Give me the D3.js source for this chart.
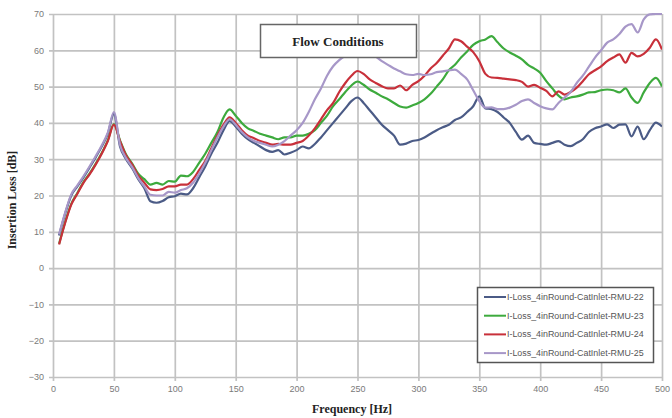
<!DOCTYPE html>
<html><head><meta charset="utf-8">
<script src="https://cdn.jsdelivr.net/npm/d3@7"></script>
<style>html,body{margin:0;padding:0;background:#fff;}svg{display:block;}</style>
</head><body><svg id="c" width="672" height="418"></svg>
<script>
const freq = [5,10,15,20,25,30,35,40,45,50,55,60,65,70,75,80,85,90,95,100,105,110,115,120,125,130,135,140,145,150,155,160,165,170,175,180,185,190,195,200,205,210,215,220,225,230,235,240,245,250,255,260,265,270,275,280,285,290,295,300,305,310,315,320,325,330,335,340,345,350,355,360,365,370,375,380,385,390,395,400,405,410,415,420,425,430,435,440,445,450,455,460,465,470,475,480,485,490,495,500];
const rmu22 = [9,15,20,22.5,25,27.7,30.5,33.5,37,42.5,33.5,30,27.5,24.5,22,18.4,18,18.5,19.5,19.8,20.5,20.3,22,25,28,31.5,34.5,38,40.5,39,37,35.5,34.5,33.5,32.5,32,32.5,31.3,31.8,32.5,33.5,33,34.2,36,38,40,42,44,46,47,45.5,43.5,41.5,39.5,38,36.5,34,34.3,35,35.3,36,37,38,38.8,39.5,40.8,41.5,43,44.6,47.3,44,43.8,43,41.5,40,37.5,35.4,36.5,34.5,34.2,34,34.5,35,34,33.6,34.5,35.5,37.5,38.5,39,39.6,38.6,39.5,39.6,36.3,39,35.5,38,40.1,39];
const rmu23 = [6.7,12.7,17.7,20.7,23.7,26,28.7,31.7,35.2,39.7,35.2,31.3,28.8,26,24.5,23,23.5,23,24,23.8,25.5,25.3,26.5,29,31.5,34.5,37.5,41.5,43.7,42,40,38.5,37.8,37,36.5,36,35.5,36,36,36.5,36.5,37,38,40,42,44.6,46.5,48.5,50.3,51.4,50.5,49.2,48.3,47.3,46.5,45.5,44.5,44.2,44.8,45.5,46.5,48,50,52,54.5,56,58,59.7,61.5,62.5,63,63.9,62.2,60.5,59.4,58.5,57.5,56,55,53.8,51.5,49.5,47.5,46.5,47,47.3,47.8,48.4,48.5,49,49.2,49,48.4,49.5,47,45.5,48.4,51,52.4,50];
const rmu24 = [6.5,12.5,17.5,20.5,23.5,25.8,28.5,31.5,35,39.5,35,31,28.5,25.5,23.5,21.7,21.5,21.8,22.5,22.5,23,23,24.5,27,29.5,33,36.5,39.5,41.5,40,38,36.5,35.8,35,34.5,34,34.2,34,34,34.5,35,36.5,38.5,41,43.5,45.5,48.5,51,53,54.3,53.5,52,51,50.1,49.5,49.5,50.3,49,50.5,51.5,53,55,56.5,58.5,60.5,63,62.5,61,59.5,57,53.5,52.5,52.4,52.2,52,51.8,51.3,50,50.5,49.7,48.8,47.3,48.7,47.8,48.5,49.7,51.5,53.4,54.5,55.6,57,58,58.9,56.6,59.3,58.3,59,60.7,63,60.2];
const rmu25 = [9.3,15.3,20.3,22.8,25.3,28,30.8,33.8,37.3,43,34,30.3,27.8,24.8,22.5,20.2,20,20,21,20.8,21.5,22,23.5,26,29,32.5,36,39,41,39.5,37.5,36,35,34.5,34,33.5,34,35,36.5,38,40,43,46.5,49.5,53,55.6,57.3,58.5,59.3,59.8,59.6,59,58.3,57,56,55,54.2,53.4,53.2,53.5,53.2,53.4,54,54.2,54.5,54.7,53.5,52,49,46,44.2,44.3,43.8,43.8,44.2,45,46,46.5,45.5,44.6,44,43.7,45.5,47,48.5,51,53,55.5,58,60,62.1,63,64.5,66.5,67.2,64.9,68.5,69.9,70,70];
const seriesNames = ["I-Loss_4inRound-CatInlet-RMU-22","I-Loss_4inRound-CatInlet-RMU-23","I-Loss_4inRound-CatInlet-RMU-24","I-Loss_4inRound-CatInlet-RMU-25"];
const seriesColors = ["#4b5b86","#3daa3d","#c8303a","#a797c8"];
const xTicks = [0,50,100,150,200,250,300,350,400,450,500];
const yTicks = [-30,-20,-10,0,10,20,30,40,50,60,70];
const titleText = "Flow Conditions";
const xTitle = "Frequency [Hz]";
const yTitle = "Insertion Loss [dB]";

const series = [rmu22, rmu23, rmu24, rmu25];
const svg = d3.select("#c");
const L = 53, R = 662, T = 14, B = 377;
const x = d3.scaleLinear().domain([0,500]).range([L,R]);
const y = d3.scaleLinear().domain([-30,70]).range([B,T]);
const gridCol = "#c2c2c2";

svg.append("rect").attr("width",672).attr("height",418).attr("fill","#fff");

const gx = svg.append("g").attr("transform",`translate(0,${B})`)
  .call(d3.axisBottom(x).tickValues(xTicks).tickSize(-(B-T)).tickSizeOuter(0).tickPadding(9));
gx.select(".domain").remove();
gx.selectAll("line").attr("stroke",gridCol).attr("stroke-width",1.7).attr("y2",-(B-T)).attr("y1",4);
gx.selectAll("text").attr("fill","#7a7a7a").style("font","9px 'Liberation Sans', Arial, sans-serif");

const gy = svg.append("g").attr("transform",`translate(${L},0)`)
  .call(d3.axisLeft(y).tickValues(yTicks).tickSize(-(R-L)).tickSizeOuter(0).tickPadding(9));
gy.select(".domain").remove();
gy.selectAll("line").attr("stroke",gridCol).attr("stroke-width",1.7).attr("x1",-4);
gy.selectAll("text").attr("fill","#7a7a7a").style("font","9px 'Liberation Sans', Arial, sans-serif");

svg.append("defs").append("clipPath").attr("id","clip").append("rect")
  .attr("x",L).attr("y",T-1).attr("width",R-L).attr("height",B-T+2);

const line = d3.line().x((d,i)=>x(freq[i])).y(d=>y(d)).curve(d3.curveMonotoneX);
const lg = svg.append("g").attr("clip-path","url(#clip)");
series.forEach((s,k)=>{
  lg.append("path").datum(s).attr("d",line).attr("fill","none")
    .attr("stroke",seriesColors[k]).attr("stroke-width",2.2).attr("stroke-linejoin","round");
});

svg.append("rect").attr("x",260.5).attr("y",24.5).attr("width",156).attr("height",33)
  .attr("fill","#fff").attr("stroke","#666").attr("stroke-width",1.5);
svg.append("text").attr("x",338).attr("y",45.5).attr("text-anchor","middle")
  .style("font","bold 13px 'Liberation Serif','Times New Roman',serif").attr("fill","#222").text(titleText);

const lgx = 477.5, lgy = 287.5, lgw = 176, lgh = 75;
svg.append("rect").attr("x",lgx).attr("y",lgy).attr("width",lgw).attr("height",lgh)
  .attr("fill","#fff").attr("stroke","#555").attr("stroke-width",1.5);
seriesNames.forEach((n,k)=>{
  const yy = 297 + k*18.7;
  svg.append("line").attr("x1",484).attr("x2",506).attr("y1",yy).attr("y2",yy)
    .attr("stroke",seriesColors[k]).attr("stroke-width",2);
  svg.append("text").attr("x",507).attr("y",yy+3).attr("fill","#555")
    .style("font","8.9px 'Liberation Sans', Arial, sans-serif").text(n);
});

svg.append("text").attr("x",352).attr("y",413).attr("text-anchor","middle")
  .style("font","bold 12px 'Liberation Serif','Times New Roman',serif").attr("fill","#222").text(xTitle);
svg.append("text").attr("transform","translate(16,200) rotate(-90)").attr("text-anchor","middle")
  .style("font","bold 12px 'Liberation Serif','Times New Roman',serif").attr("fill","#222").text(yTitle);
</script></body></html>
